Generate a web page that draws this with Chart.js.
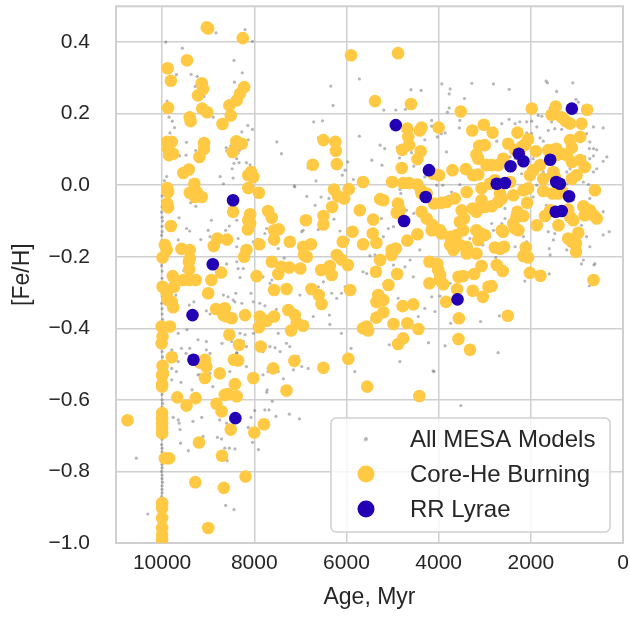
<!DOCTYPE html>
<html>
<head>
<meta charset="utf-8">
<script src="https://cdn.jsdelivr.net/npm/chart.js@4/dist/chart.umd.min.js"></script>
<style>
  html, body { margin: 0; padding: 0; background: #fff; }
  #wrap { width: 630px; height: 630px; }
</style>
</head>
<body>
<div id="wrap"><canvas id="chart" width="630" height="630"></canvas></div>
<script>
// tick labels
const xTicks = [10000, 8000, 6000, 4000, 2000, 0];
const yTicks = [-1.0, -0.8, -0.6, -0.4, -0.2, 0.0, 0.2, 0.4];

// All MESA models (age in Myr, [Fe/H])
const mesaAge = [
  9920, 9560, 8830, 9690, 9370, 9240, 9280, 9090, 8440, 8430, 9890, 9850, 9780, 9730, 9830, 8890, 9470, 9270, 8610, 8510,
  8600, 8350, 8380, 8440, 8480, 9480, 9620, 8460, 8740, 8670, 9900, 9950,
  8200, 8040, 8260, 6340, 6290, 5720, 6710, 6520, 8140, 8040, 8270, 8130, 7510, 7410, 6610, 5720, 8320, 8330,
  8170, 8090, 6830, 5970, 6030, 6090, 6660, 7130, 5850, 6360,
  3930, 3750, 3770, 3280, 4600, 4380, 3440, 3810, 3770, 5190, 4930, 4720, 3540, 3550, 4150, 4150, 3940, 3860, 4030, 4300,
  3830, 5270, 5170, 4900, 4590, 5450, 5230, 4850, 4540, 4300, 4040, 3910, 4840, 3540,
  2810, 2470, 1670, 1640, 1090, 1440, 1020, 970, 1580, 1840, 1760, 1020, 790, 640, 430, 2630, 2470, 2340, 2240, 2090,
  1980, 1550, 1480, 1870, 2090, 1980, 2740, 2560, 1620, 1330, 1800, 1730, 790, 720, 640, 570, 730, 350, 430, 640,
  720, 2340, 2450, 1950, 1870, 830, 930, 570, 640, 1220, 1150, 1620, 1730, 2200, 2090, 1300, 1220, 860, 750, 1870,
  9380, 9270, 8930, 9630, 9470, 9400, 9000, 8620, 8540, 8380, 9160, 8960, 9650, 8350, 8380, 8600, 8380, 8350, 9530, 9700,
  9310, 9410, 9040, 8960, 8670, 8570, 8400, 8460, 9460, 9650, 9220, 9040, 8700, 8490, 9580, 9400, 9790, 9720, 9480, 9040,
  8960, 9650, 8380, 8350, 9790, 9690, 8530, 9220,
  7120, 6860, 6680, 6550, 6380, 6270, 6140, 6030, 5960, 6610, 6940, 6970, 7730, 7770, 7930, 8020, 7480, 7350, 8240, 8310,
  7810, 7660, 7620, 6610, 6500, 6320, 6210, 6110, 6030, 7010, 8420, 8070, 8020, 7880, 7770, 8270, 7520, 6370, 6360, 6720,
  7480, 7260, 6110, 5900, 8310, 8200, 8020, 8240, 8170, 7810, 7660, 7550, 7440, 7300, 7230, 8380, 8310, 7050, 6970, 6830,
  8170, 7700, 7480, 7150, 5820,
  5360, 4820, 4980, 4700, 4540, 5240, 5090, 4980, 5200, 5060, 5490, 5380, 5640, 5560, 5450, 4980, 4730, 4550, 4620, 4410,
  3860, 3790, 3720, 3320, 3040, 3360, 3750, 3680, 4150, 3970, 4880, 4300, 4080, 4440, 5450, 3090, 3740, 5070, 4220, 3860,
  4120, 4840,
  2560, 2160, 1950, 1660, 1190, 1080, 720, 430, 900, 790, 720, 430, 300, 1620, 1480, 1510, 1600, 1580, 1220, 2160,
  2090, 2340, 2560, 2630, 2850, 2810, 2890, 860, 900, 610, 630, 1600, 2130, 730, 2760, 2680, 2710,
  10560, 10310, 9760, 9650, 9630, 9610, 9790, 9590, 9350, 9330, 9140, 9600, 9430, 9110, 8900, 8800, 8710, 8640, 8540, 8420,
  8590, 8620, 8440, 8750, 8600, 9180, 8960,
  7810, 7700, 7370, 7720, 7730, 7610, 7990, 7770, 7680, 7530, 8070, 7240, 7020, 8130, 8040, 7910, 5610, 3520, 4100,
  10000, 9990, 10000, 10010, 10000, 9990, 10000, 10000, 10010, 10000, 9990, 10000, 10000, 10010, 10000, 10000, 9990, 10000, 10000, 10010,
  10000, 10000, 9990, 10000, 10000, 10010, 10000, 10000, 9990, 10000, 10000, 10000, 10010, 10000, 10000, 9990, 10000, 10000, 10000, 10010,
  10000, 10000, 9990, 10000, 10000, 10000, 10010, 10000, 10000, 9990, 10000, 10000, 10000, 10010, 10000, 10000, 9990, 10000, 10000
];
const mesaFeh = [
  0.400, 0.383, 0.426, 0.309, 0.310, 0.304, 0.276, 0.248, 0.349, 0.288, 0.235, 0.190, 0.179, 0.161, 0.146, 0.190, 0.120, 0.097, 0.105, 0.110,
  0.096, 0.090, 0.074, 0.061, 0.046, 0.084, 0.082, 0.020, 0.024, 0.004, 0.024, 0.013,
  0.435, 0.402, 0.314, 0.277, 0.223, 0.297, 0.177, 0.180, 0.167, 0.156, 0.149, 0.127, 0.121, 0.088, 0.132, 0.137, 0.098, 0.063,
  0.063, 0.057, 0.049, 0.065, 0.042, 0.028, 0.012, -0.002, 0.016, -0.007,
  0.283, 0.269, 0.255, 0.285, 0.267, 0.265, 0.242, 0.204, 0.216, 0.210, 0.210, 0.212, 0.181, 0.160, 0.181, 0.165, 0.144, 0.146, 0.135, 0.127,
  0.093, 0.112, 0.102, 0.105, 0.091, 0.070, 0.056, 0.076, 0.053, 0.023, 0.000, 0.000, -0.012, 0.002,
  0.283, 0.268, 0.291, 0.286, 0.286, 0.262, 0.240, 0.232, 0.216, 0.195, 0.193, 0.203, 0.200, 0.163, 0.160, 0.172, 0.184, 0.172, 0.177, 0.177,
  0.179, 0.177, 0.158, 0.163, 0.146, 0.144, 0.123, 0.126, 0.153, 0.156, 0.132, 0.123, 0.144, 0.121, 0.102, 0.099, 0.102, 0.079, 0.067, 0.082,
  0.074, 0.074, 0.079, 0.074, 0.065, 0.079, 0.046, 0.046, 0.037, 0.037, 0.046, 0.032, 0.037, 0.032, 0.028, 0.009, 0.004, 0.009, 0.002, 0.000,
  -0.049, -0.059, -0.098, -0.091, -0.121, -0.128, -0.126, -0.126, -0.114, -0.098, -0.152, -0.144, -0.153, -0.149, -0.172, -0.220, -0.214, -0.233, -0.239, -0.307,
  -0.326, -0.335, -0.351, -0.360, -0.307, -0.312, -0.302, -0.321, -0.404, -0.414, -0.432, -0.437, -0.442, -0.437, -0.456, -0.456, -0.460, -0.470, -0.470, -0.460,
  -0.470, -0.493, -0.470, -0.456, -0.512, -0.521, -0.521, -0.530,
  -0.005, -0.031, -0.056, -0.033, -0.037, -0.095, -0.128, -0.158, -0.153, -0.124, -0.126, -0.130, -0.121, -0.135, -0.151, -0.158, -0.177, -0.204, -0.233, -0.258,
  -0.256, -0.274, -0.265, -0.284, -0.270, -0.302, -0.316, -0.302, -0.284, -0.307, -0.326, -0.302, -0.326, -0.330, -0.337, -0.330, -0.347, -0.363, -0.389, -0.367,
  -0.414, -0.414, -0.414, -0.456, -0.414, -0.418, -0.414, -0.437, -0.451, -0.465, -0.451, -0.454, -0.465, -0.442, -0.451, -0.468, -0.456, -0.479, -0.507, -0.512,
  -0.507, -0.512, -0.521, -0.516, -0.521,
  -0.035, -0.023, -0.056, -0.070, -0.079, -0.093, -0.121, -0.116, -0.144, -0.177, -0.197, -0.195, -0.242, -0.247, -0.237, -0.223, -0.228, -0.256, -0.209, -0.181,
  -0.042, -0.031, -0.019, -0.149, -0.167, -0.245, -0.274, -0.288, -0.312, -0.310, -0.316, -0.344, -0.353, -0.367, -0.377, -0.381, -0.386, -0.446, -0.440, -0.449,
  -0.519, -0.493,
  -0.065, -0.047, -0.033, -0.056, -0.047, -0.042, -0.037, -0.074, -0.112, -0.144, -0.172, -0.139, -0.130, -0.130, -0.135, -0.153, -0.177, -0.195, -0.181, -0.144,
  -0.158, -0.172, -0.093, -0.107, -0.107, -0.126, -0.144, -0.209, -0.220, -0.219, -0.223, -0.248, -0.268, -0.281, -0.202, -0.365, -0.468,
  -0.763, -0.919, -0.649, -0.656, -0.665, -0.683, -0.544, -0.551, -0.572, -0.660, -0.649, -0.721, -0.742, -0.702, -0.563, -0.705, -0.709, -0.735, -0.735, -0.737,
  -0.770, -0.895, -0.907, -0.656, -0.665, -0.530, -0.526,
  -0.530, -0.521, -0.541, -0.572, -0.579, -0.604, -0.630, -0.628, -0.628, -0.646, -0.649, -0.640, -0.653, -0.677, -0.719, -0.739, -0.714, -0.616, -0.521,
  -0.030, -0.045, -0.060, -0.075, -0.090, -0.100, -0.115, -0.130, -0.140, -0.155, -0.170, -0.190, -0.210, -0.225, -0.240, -0.260, -0.275, -0.290, -0.310, -0.330,
  -0.345, -0.360, -0.375, -0.385, -0.410, -0.430, -0.450, -0.465, -0.480, -0.495, -0.515, -0.540, -0.570, -0.585, -0.600, -0.610, -0.620, -0.700, -0.710, -0.725,
  -0.735, -0.745, -0.755, -0.770, -0.780, -0.790, -0.800, -0.810, -0.820, -0.830, -0.840, -0.850, -0.860, -0.870, -0.880, -0.910, -0.940, -0.970, -0.995
];

// core-He burning models
const heAge = [
  9030, 9000, 9460, 9880, 9810, 9140, 9110, 9220, 8310, 8380, 8540, 8510, 8690, 9870, 9130, 9020, 9400, 9380, 8390, 8470,
  9890, 9790, 9870, 9760, 9850, 9090, 9090, 9190, 9540, 9420, 9300, 9890,
  8250, 5900, 8220, 8270, 6500, 6240, 6230, 6730, 6210, 8070, 8020, 8130, 8130, 7900, 6270, 5950, 5640,
  4880, 5380, 4600, 3520, 4680, 4660, 4640, 4790, 4410, 4370, 4000, 3270, 3020, 3120, 3000, 3180, 3140, 2960, 3250, 3140,
  4390, 4460, 4800, 3990, 4120, 3700, 3410, 5010, 4770, 4640, 4460, 4380, 3070, 2890,
  1980, 1460, 1550, 780, 1330, 1240, 1150, 900, 2830, 2290, 930, 1150, 1110, 2060, 2130, 2490, 1620, 1450, 1440, 1330,
  1890, 2340, 2200, 1220, 1110, 930, 2600, 2710, 2850, 1800, 1950, 2020, 830, 1010, 1110, 1510, 1480, 1730, 2450, 2780, 610,
  9870, 9890, 9870, 9400, 9250, 9140, 9290, 8460, 9810, 8800, 8880, 8590, 9940, 9900, 9990, 9580, 9400, 9400, 9420, 9410,
  9770, 9540, 9410, 9270, 8930, 8720, 9990, 9740, 9000, 9900, 9870, 9790, 9760, 8830, 8640, 8670, 8600, 8490, 10010, 9830,
  9990, 10010, 8540, 9790, 9070, 9040, 9180, 8440, 9990, 9980, 8750,
  8090, 8130, 8140, 8090, 7700, 7620, 6880, 6500, 6500, 6310, 6180, 6050, 5710, 5870, 7570, 7470, 7570, 7230, 7890, 6940,
  6770, 6920, 6860, 6080, 5640, 8170, 8220, 6210, 6110, 5970, 7620, 7410, 7240, 7480, 7000, 6550, 6360, 6320, 7950, 7570,
  7300, 6760, 6600, 6540, 5920, 7260, 7120, 7080, 6940, 7880, 7730, 7570, 7900, 8200, 7200, 8330, 7860, 8350, 7130, 5960,
  7590, 6500, 5640,
  5200, 5270, 4880, 4840, 5420, 4910, 4370, 4260, 4100, 4130, 4150, 4260, 4370, 3940, 3830, 3650, 3390, 3500, 3450, 3540,
  3470, 3260, 3180, 3070, 3000, 3180, 3090, 3000, 3140, 3970, 3940, 3750, 3610, 3750, 3680, 3540, 3390, 3390, 3180, 4680,
  4460, 5430, 5350, 5020, 4930, 5020, 5270, 5360, 4900, 5090, 4200, 4030, 4010, 3970, 3970, 3900, 4200, 3570, 3470, 3230,
  3070, 2920, 3600, 3260, 3040, 5310, 5200, 5350, 4780, 4550, 3840, 5200, 5350, 5560, 5530, 4980, 4680, 4440, 3560, 4770,
  4880, 3570, 3320,
  2670, 2630, 2710, 2380, 2160, 2060, 2080, 1730, 1530, 1400, 1330, 2850, 2290, 2310, 2160, 1870, 1690, 1580, 1190, 1150,
  1080, 860, 720, 830, 570, 640, 1400, 2380, 2340, 2270, 2630, 2600, 970, 1190, 1110, 1020, 1020, 2780, 2670, 2580,
  2110, 2160, 2060, 2740, 2610, 2020, 1790, 640, 2850, 2500,
  10000, 10000, 10000, 10000, 10000, 10000, 10000, 10000, 10750, 9670, 9470, 9270, 9070, 8420, 8640, 8570, 8380, 8820, 8710, 8510,
  9200, 8700, 9940, 9850, 9280, 8660, 9000, 10000, 10000, 10000, 10000, 10000, 10000,
  8020, 7300, 7790, 8000, 8190, 5550, 4420
];
const heFeh = [
  0.441, 0.438, 0.349, 0.327, 0.292, 0.285, 0.269, 0.251, 0.256, 0.237, 0.223, 0.195, 0.171, 0.216, 0.214, 0.204, 0.190, 0.179, 0.123, 0.093,
  0.121, 0.121, 0.102, 0.088, 0.084, 0.118, 0.102, 0.079, 0.034, 0.044, 0.004, -0.008,
  0.411, 0.363, 0.274, 0.116, 0.126, 0.121, 0.096, 0.057, 0.059, 0.037, 0.023, 0.028, -0.008, -0.021, -0.012, -0.011, 0.009,
  0.369, 0.235, 0.227, 0.206, 0.158, 0.135, 0.112, 0.099, 0.153, 0.161, 0.161, 0.153, 0.169, 0.110, 0.112, 0.086, 0.074, 0.056, 0.028, 0.030,
  0.095, 0.073, 0.048, 0.028, 0.032, 0.042, 0.045, 0.009, 0.006, 0.006, 0.002, -0.014, -0.009, 0.004,
  0.214, 0.220, 0.197, 0.211, 0.190, 0.179, 0.172, 0.172, 0.147, 0.147, 0.135, 0.126, 0.105, 0.128, 0.113, 0.116, 0.098, 0.102, 0.084, 0.088,
  0.095, 0.098, 0.107, 0.084, 0.065, 0.070, 0.074, 0.056, 0.056, 0.056, 0.042, 0.028, 0.051, 0.028, 0.018, 0.037, 0.023, 0.018, 0.009, 0.014, -0.014,
  -0.019, -0.051, -0.062, -0.021, -0.019, -0.033, -0.033, -0.074, -0.114, -0.149, -0.170, -0.152, -0.167, -0.181, -0.202, -0.178, -0.181, -0.205, -0.214, -0.235,
  -0.254, -0.265, -0.265, -0.265, -0.265, -0.244, -0.284, -0.284, -0.302, -0.302, -0.321, -0.326, -0.341, -0.346, -0.344, -0.363, -0.367, -0.372, -0.395, -0.395,
  -0.423, -0.442, -0.418, -0.481, -0.488, -0.507, -0.496, -0.488, -0.505, -0.526, -0.526,
  -0.081, -0.098, -0.124, -0.107, -0.072, -0.091, -0.098, -0.086, -0.110, -0.061, -0.031, -0.037, -0.070, -0.130, -0.126, -0.123, -0.152, -0.158, -0.165, -0.172,
  -0.165, -0.195, -0.200, -0.158, -0.165, -0.181, -0.200, -0.195, -0.208, -0.223, -0.214, -0.228, -0.230, -0.248, -0.233, -0.237, -0.226, -0.251, -0.254, -0.293,
  -0.290, -0.290, -0.307, -0.332, -0.293, -0.349, -0.363, -0.384, -0.393, -0.367, -0.379, -0.367, -0.397, -0.363, -0.406, -0.446, -0.451, -0.490, -0.491, -0.485,
  -0.512, -0.510, -0.400,
  -0.042, -0.039, -0.051, -0.070, -0.096, -0.077, -0.074, -0.093, -0.051, -0.112, -0.126, -0.023, -0.023, -0.049, -0.047, -0.037, -0.019, -0.070, -0.093, -0.102,
  -0.126, -0.065, -0.074, -0.042, -0.061, -0.126, -0.135, -0.139, -0.153, -0.126, -0.135, -0.144, -0.139, -0.167, -0.181, -0.167, -0.172, -0.191, -0.191, -0.155,
  -0.137, -0.135, -0.161, -0.195, -0.177, -0.181, -0.209, -0.242, -0.248, -0.279, -0.214, -0.220, -0.237, -0.251, -0.265, -0.277, -0.274, -0.256, -0.254, -0.248,
  -0.226, -0.284, -0.291, -0.295, -0.312, -0.307, -0.321, -0.326, -0.338, -0.333, -0.326, -0.355, -0.370, -0.395, -0.406, -0.388, -0.386, -0.402, -0.372, -0.428,
  -0.444, -0.430, -0.460,
  -0.023, -0.037, -0.047, -0.028, -0.014, -0.009, -0.049, -0.016, -0.023, -0.023, -0.014, -0.059, -0.074, -0.088, -0.086, -0.112, -0.086, -0.070, -0.068, -0.088,
  -0.098, -0.059, -0.070, -0.084, -0.093, -0.084, -0.112, -0.107, -0.121, -0.126, -0.126, -0.130, -0.133, -0.149, -0.158, -0.163, -0.186, -0.174, -0.178, -0.172,
  -0.174, -0.198, -0.202, -0.223, -0.240, -0.245, -0.253, -0.265, -0.282, -0.365,
  -0.532, -0.556, -0.563, -0.637, -0.651, -0.665, -0.679, -0.693, -0.657, -0.593, -0.616, -0.595, -0.539, -0.556, -0.586, -0.584, -0.590, -0.611, -0.632, -0.683,
  -0.719, -0.756, -0.763, -0.763, -0.830, -0.846, -0.958, -0.888, -0.902, -0.930, -0.958, -0.977, -0.991,
  -0.539, -0.574, -0.668, -0.691, -0.814, -0.563, -0.589
];

// RR Lyrae
const rrAge = [4930, 4210, 1110, 2260, 2160, 2440, 1580, 2740, 2560, 1450, 1370, 8460, 8900, 9340, 9320, 4280, 4750, 3590, 1170, 1460, 1330, 8410];
const rrFeh = [0.168, 0.042, 0.214, 0.088, 0.067, 0.053, 0.071, 0.004, 0.006, 0.009, 0.004, -0.042, -0.221, -0.363, -0.488, -0.033, -0.100, -0.319, -0.031, -0.074, -0.072, -0.651];

const toPoints = (xs, ys) => xs.map((x, i) => ({ x: x, y: ys[i] }));

const GRID = '#cfcfcf';
const TEXT = '#262626';
const FONT = "'Liberation Sans', Arial, sans-serif";

const frameAndLegend = {
  id: 'frameAndLegend',
  beforeDatasetsDraw(chart) {
    const { ctx, chartArea: a } = chart;
    ctx.save();
    ctx.strokeStyle = GRID;
    ctx.lineWidth = 2;
    ctx.strokeRect(a.left, a.top, a.right - a.left, a.bottom - a.top);
    ctx.restore();
  },
  afterDraw(chart) {
    const ctx = chart.ctx;
    const x = 331, y = 418, w = 279, h = 114, r = 5;
    ctx.save();
    ctx.beginPath();
    ctx.roundRect(x, y, w, h, r);
    ctx.fillStyle = 'rgba(255,255,255,0.8)';
    ctx.fill();
    ctx.strokeStyle = GRID;
    ctx.lineWidth = 1.5;
    ctx.stroke();
    const ds = chart.data.datasets;
    const rows = [
      { ds: ds[0], cy: 439, r: 2 },
      { ds: ds[1], cy: 474, r: 8.5 },
      { ds: ds[2], cy: 509, r: 8.5 }
    ];
    ctx.font = '24px ' + FONT;
    ctx.textBaseline = 'middle';
    ctx.textAlign = 'left';
    rows.forEach(row => {
      ctx.beginPath();
      ctx.arc(366, row.cy, row.r, 0, Math.PI * 2);
      ctx.fillStyle = row.ds.backgroundColor;
      ctx.fill();
      ctx.fillStyle = TEXT;
      ctx.fillText(row.ds.label, 410, row.cy + 1);
    });
    ctx.restore();
  }
};

new Chart(document.getElementById('chart'), {
  type: 'scatter',
  data: {
    datasets: [
      {
        label: 'All MESA Models',
        data: toPoints(mesaAge, mesaFeh),
        backgroundColor: 'rgba(95,95,95,0.45)',
        borderWidth: 0,
        pointRadius: 1.6,
        order: 3
      },
      {
        label: 'Core-He Burning',
        data: toPoints(heAge, heFeh),
        backgroundColor: '#ffc943',
        borderWidth: 0,
        pointRadius: 6.3,
        order: 2
      },
      {
        label: 'RR Lyrae',
        data: toPoints(rrAge, rrFeh),
        backgroundColor: '#2300b3',
        borderWidth: 0,
        pointRadius: 6.3,
        order: 1
      }
    ]
  },
  options: {
    responsive: false,
    animation: false,
    events: [],
    layout: { padding: { top: 5, right: 7, left: 0, bottom: 0 } },
    plugins: { legend: { display: false }, tooltip: { enabled: false } },
    scales: {
      x: {
        type: 'linear',
        reverse: true,
        min: 0,
        max: 11000,
        afterBuildTicks: s => { s.ticks = xTicks.map(v => ({ value: v })); },
        afterFit: s => { s.height = 87; s.paddingLeft = 0; s.paddingRight = 0; },
        grid: { color: GRID, lineWidth: 1.5, drawTicks: false },
        border: { display: false },
        ticks: { color: TEXT, font: { size: 21, family: FONT }, padding: 8, maxRotation: 0, callback: v => String(v) },
        title: { display: true, text: 'Age, Myr', color: TEXT, font: { size: 23, family: FONT }, padding: { top: 0, bottom: 19 } }
      },
      y: {
        min: -1.0,
        max: 0.5,
        afterBuildTicks: s => { s.ticks = yTicks.map(v => ({ value: v })); },
        afterFit: s => { s.width = 116; s.paddingTop = 0; s.paddingBottom = 0; },
        grid: { color: GRID, lineWidth: 1.5, drawTicks: false },
        border: { display: false },
        ticks: { color: TEXT, font: { size: 21, family: FONT }, padding: 26,
                 callback: v => (v < 0 ? '\u2212' : '') + Math.abs(v).toFixed(1) },
        title: { display: true, text: '[Fe/H]', color: TEXT, font: { size: 23, family: FONT }, padding: { top: 9, bottom: 0 } }
      }
    }
  },
  plugins: [frameAndLegend]
});
</script>
</body>
</html>
